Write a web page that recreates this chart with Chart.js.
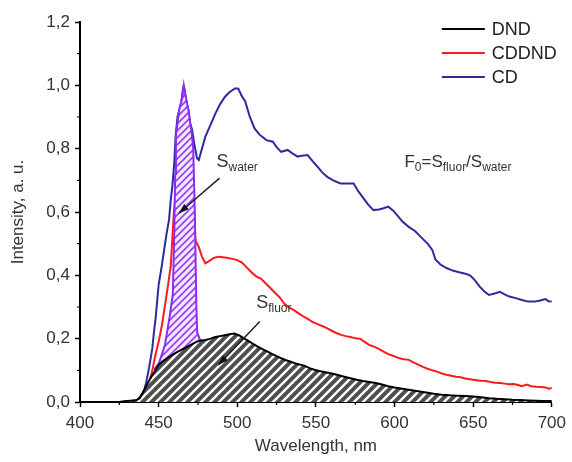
<!DOCTYPE html>
<html lang="en">
<head>
<meta charset="UTF-8" />
<title>Intensity vs wavelength</title>
<script src="https://cdn.jsdelivr.net/npm/chart.js"></script>
<style>
  html, body { margin: 0; padding: 0; background: #fff; }
  #chart { display: block; }
</style>
</head>
<body>
<canvas id="chart" width="572" height="462"></canvas>
<script>
  // spectra
  const dndWl = [425,428,432,436,438,440,442,444,446,448,450,453,456,459,462,465,468,471,474,477,480,483,486,489,492,495,498,501,504,507,510,513,516,519,522,525,528,531,534,537,540,543,546,549,552,556,560,564,568,572,576,580,584,588,592,596,600,605,610,615,620,625,630,635,640,645,650,655,660,665,670,675,680,685,690,695,700];
  const dndI  = [0,0.002,0.004,0.006,0.012,0.03,0.05,0.068,0.085,0.1,0.118,0.13,0.14,0.15,0.158,0.166,0.174,0.182,0.19,0.194,0.196,0.2,0.205,0.208,0.211,0.214,0.216,0.211,0.202,0.193,0.184,0.175,0.167,0.16,0.152,0.145,0.138,0.132,0.127,0.122,0.118,0.114,0.107,0.102,0.098,0.094,0.09,0.085,0.08,0.075,0.07,0.066,0.063,0.06,0.055,0.05,0.046,0.042,0.038,0.034,0.03,0.026,0.023,0.021,0.02,0.019,0.017,0.015,0.012,0.01,0.009,0.007,0.006,0.005,0.004,0.003,0.003];

  const cddndWl = [425,432,437,440,442,444,446,448,450,452,454.5,456,457.7,459.7,461,463,465,466,467,469,470,471.3,472.3,473.4,475.5,477.5,479.7,482,485,488,491,494,497,500,503,506,509,512,515,518,521,524,527,530,533,536,539,542,545,548,551,554,557,560,563,566,569,572,575,578,581,584,587,590,593,596,599,602,605,609,612,615,618,621,624,627,630,633,636,639,642,645,648,652,655,658,661,664,667,670,673,676,679,681,684,687,690,693,696,698,700];
  const cddndI  = [0,0,0.003,0.01,0.03,0.06,0.1,0.15,0.19,0.24,0.32,0.37,0.43,0.6,0.66,0.8,0.95,1.0,0.95,0.87,0.83,0.76,0.63,0.51,0.49,0.46,0.438,0.445,0.455,0.459,0.457,0.455,0.452,0.448,0.44,0.425,0.41,0.397,0.39,0.375,0.36,0.345,0.33,0.31,0.298,0.29,0.28,0.27,0.262,0.252,0.246,0.24,0.233,0.225,0.218,0.212,0.208,0.205,0.201,0.2,0.19,0.18,0.175,0.168,0.159,0.151,0.146,0.14,0.136,0.133,0.125,0.118,0.111,0.105,0.1,0.096,0.09,0.086,0.083,0.08,0.078,0.074,0.072,0.069,0.067,0.066,0.063,0.061,0.06,0.058,0.056,0.057,0.053,0.05,0.055,0.05,0.048,0.047,0.046,0.042,0.044];

  const cdWl = [425,430,436,438,440,441,442,444,446,447,448,450,452,453.5,455,456.6,457.7,458.7,460,460.8,462,463,464.5,465.5,466,467,468,469,470,471.3,472.5,473.4,474.4,475.5,477,479.7,483,486,489,492.2,495,498.5,500.6,503,505,508,511,514,518.5,522.6,525,527.9,532,535,538.4,541,544.7,548,551,554,557.2,561,565.6,570,574,577,580.3,583,586.6,590,593,596,599,602,605,609,613,617,621,624,626,629,633,637,641,645,648,651,654,657,660,663,667,670,673,677,681,685,689,692,696,698,700];
  const cdI  = [0,0.001,0.005,0.015,0.03,0.04,0.06,0.11,0.17,0.22,0.26,0.37,0.43,0.48,0.53,0.575,0.638,0.68,0.76,0.84,0.9,0.92,0.95,0.99,1.0,0.97,0.94,0.92,0.88,0.86,0.82,0.796,0.77,0.764,0.79,0.838,0.875,0.91,0.94,0.964,0.978,0.99,0.99,0.965,0.95,0.9,0.864,0.845,0.827,0.822,0.805,0.79,0.796,0.785,0.775,0.778,0.78,0.76,0.743,0.725,0.711,0.7,0.69,0.69,0.69,0.665,0.643,0.625,0.606,0.608,0.612,0.617,0.605,0.588,0.57,0.553,0.54,0.52,0.5,0.48,0.45,0.435,0.423,0.415,0.41,0.405,0.4,0.385,0.365,0.35,0.338,0.342,0.348,0.34,0.333,0.328,0.322,0.317,0.317,0.32,0.325,0.318,0.317];

  // hatched water band (S_water), filled down to the DND curve
  const waterWl = [447,450,454,457,459,460,460.5,461,463,465,466,467,469,471,472,473,474,474.5,476.5];
  const waterI  = [0.102,0.12,0.18,0.27,0.34,0.55,0.72,0.84,0.92,0.96,1.0,0.97,0.92,0.85,0.8,0.6,0.3,0.22,0.194];

  const xTicks = [400, 450, 500, 550, 600, 650, 700];
  const yTicks = [0, 0.2, 0.4, 0.6, 0.8, 1.0, 1.2];

  const toPoints = (xs, ys) => xs.map((x, i) => ({ x: x, y: ys[i] }));

  function hatch(bg, fg, size, width) {
    const c = document.createElement('canvas');
    c.width = size; c.height = size;
    const g = c.getContext('2d');
    g.fillStyle = bg;
    g.fillRect(0, 0, size, size);
    g.strokeStyle = fg;
    g.lineWidth = width;
    g.beginPath();
    g.moveTo(0, size); g.lineTo(size, 0);
    g.moveTo(-2, 2); g.lineTo(2, -2);
    g.moveTo(size - 2, size + 2); g.lineTo(size + 2, size - 2);
    g.stroke();
    return g.createPattern(c, 'repeat');
  }

  const FONT = "'Liberation Sans', Arial, sans-serif";
  Chart.defaults.font.family = FONT;

  // text with subscripts: parts = [[text, isSub], ...]
  function subText(ctx, parts, x, y, size, subSize) {
    ctx.save();
    ctx.fillStyle = '#333';
    ctx.textBaseline = 'alphabetic';
    ctx.textAlign = 'left';
    parts.forEach(p => {
      ctx.font = (p[1] ? subSize : size) + 'px ' + FONT;
      ctx.fillText(p[0], x, p[1] ? y + 4 : y);
      x += ctx.measureText(p[0]).width;
    });
    ctx.restore();
  }

  function arrow(ctx, x1, y1, x2, y2) {
    const a = Math.atan2(y2 - y1, x2 - x1);
    ctx.save();
    ctx.strokeStyle = '#222';
    ctx.fillStyle = '#111';
    ctx.lineWidth = 1.5;
    ctx.beginPath();
    ctx.moveTo(x1, y1); ctx.lineTo(x2, y2);
    ctx.stroke();
    ctx.beginPath();
    ctx.moveTo(x2, y2);
    ctx.lineTo(x2 - 10 * Math.cos(a) + 3.5 * Math.sin(a), y2 - 10 * Math.sin(a) - 3.5 * Math.cos(a));
    ctx.lineTo(x2 - 10 * Math.cos(a) - 3.5 * Math.sin(a), y2 - 10 * Math.sin(a) + 3.5 * Math.cos(a));
    ctx.closePath();
    ctx.fill();
    ctx.restore();
  }

  const annotations = {
    id: 'annotations',
    afterDatasetsDraw(chart) {
      const ctx = chart.ctx;
      const px = v => chart.scales.x.getPixelForValue(v);
      const py = v => chart.scales.y.getPixelForValue(v);
      arrow(ctx, px(488.7), py(0.707), px(462.9), py(0.596));
      arrow(ctx, px(514.3), py(0.254), px(488), py(0.117));
      subText(ctx, [['S', false], ['water', true]], px(486.8), py(0.742), 18, 12);
      subText(ctx, [['S', false], ['fluor', true]], px(512), py(0.297), 18, 12);
      subText(ctx, [['F', false], ['0', true], ['=S', false], ['fluor', true], ['/S', false], ['water', true]], px(606.3), py(0.742), 17, 12);
    }
  };

  // legend inside the plot, top right
  const legendBox = {
    id: 'legendBox',
    afterDraw(chart) {
      const ctx = chart.ctx;
      const area = chart.chartArea;
      const x0 = area.right - 110;
      let y = area.top + 7;
      chart.data.datasets.filter(d => d.label).forEach(d => {
        ctx.save();
        ctx.strokeStyle = d.borderColor;
        ctx.lineWidth = 2;
        ctx.beginPath();
        ctx.moveTo(x0, y); ctx.lineTo(x0 + 43, y);
        ctx.stroke();
        ctx.fillStyle = '#222';
        ctx.font = '18px ' + FONT;
        ctx.textBaseline = 'middle';
        ctx.fillText(d.label, x0 + 50, y + 1);
        ctx.restore();
        y += 24;
      });
    }
  };

  const minorTicks = {
    id: 'minorTicks',
    afterDraw(chart) {
      const ctx = chart.ctx;
      const { x, y } = chart.scales;
      const area = chart.chartArea;
      ctx.save();
      ctx.strokeStyle = '#000';
      ctx.lineWidth = 1.2;
      ctx.beginPath();
      for (let v = 0.1; v < 1.2; v += 0.2) {
        const p = y.getPixelForValue(v);
        ctx.moveTo(area.left - 3, p); ctx.lineTo(area.left, p);
      }
      for (let v = 425; v < 700; v += 50) {
        const p = x.getPixelForValue(v);
        ctx.moveTo(p, area.bottom); ctx.lineTo(p, area.bottom + 3);
      }
      ctx.stroke();
      ctx.restore();
    }
  };

  new Chart(document.getElementById('chart'), {
    type: 'line',
    data: {
      datasets: [
        {
          label: 'DND',
          data: toPoints(dndWl, dndI),
          borderColor: '#000',
          borderWidth: 2,
          backgroundColor: hatch('#4f4f4f', '#ffffff', 9, 2.4),
          fill: 'origin',
          order: 0
        },
        {
          label: 'CDDND',
          data: toPoints(cddndWl, cddndI),
          borderColor: '#ff1a1a',
          borderWidth: 2,
          fill: false,
          order: 2
        },
        {
          label: 'CD',
          data: toPoints(cdWl, cdI),
          borderColor: '#2b2b9e',
          borderWidth: 2,
          fill: false,
          order: 3
        },
        {
          data: toPoints(waterWl, waterI),
          borderColor: '#8d2bf5',
          borderWidth: 2,
          backgroundColor: hatch('#f3eaff', '#9a44ff', 7, 1.8),
          fill: 0,
          order: 1
        }
      ]
    },
    options: {
      responsive: false,
      animation: false,
      events: [],
      elements: { point: { radius: 0 }, line: { tension: 0 } },
      layout: { padding: { top: 22, right: 15, left: 0, bottom: 0 } },
      plugins: {
        legend: { display: false },
        tooltip: { enabled: false }
      },
      scales: {
        x: {
          type: 'linear',
          min: 400,
          max: 700,
          afterBuildTicks: s => { s.ticks = xTicks.map(v => ({ value: v })); },
          afterFit: s => { s.height = 60; },
          border: { color: '#000', width: 2 },
          grid: { drawOnChartArea: false, tickLength: 5, tickColor: '#000', tickWidth: 1.5 },
          ticks: { color: '#333', font: { size: 17 }, padding: 6, maxRotation: 0 },
          title: { display: true, text: 'Wavelength, nm', color: '#333', font: { size: 17 }, padding: { bottom: 5 } }
        },
        y: {
          min: 0,
          max: 1.2,
          afterBuildTicks: s => { s.ticks = yTicks.map(v => ({ value: v })); },
          afterFit: s => { s.width = 80; },
          border: { color: '#000', width: 2 },
          grid: { drawOnChartArea: false, tickLength: 5, tickColor: '#000', tickWidth: 1.5 },
          ticks: { color: '#333', font: { size: 17 }, padding: 5, callback: v => v.toFixed(1).replace('.', ',') },
          title: { display: true, text: 'Intensity, a. u.', color: '#333', font: { size: 17 }, padding: { top: 8 } }
        }
      }
    },
    plugins: [annotations, legendBox, minorTicks]
  });
</script>
</body>
</html>
